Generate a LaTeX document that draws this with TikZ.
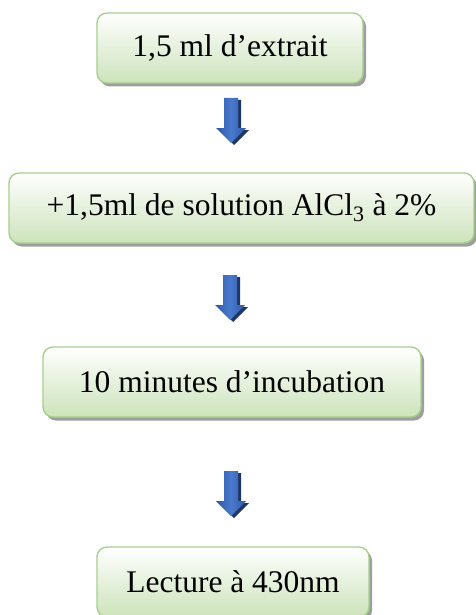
\documentclass[tikz,border=0pt]{standalone}
\usepackage{fontspec}
\setmainfont{Liberation Serif}
\usetikzlibrary{shadows}
\definecolor{boxborder}{RGB}{168,208,141}
\definecolor{boxbottom}{RGB}{204,227,186}
\definecolor{arrmid}{RGB}{74,122,205}
\definecolor{arrside}{RGB}{47,88,165}
\definecolor{arrshadow}{RGB}{30,55,105}
\tikzset{
  stepbox/.style={draw=boxborder, line width=1.4pt, rounded corners=10pt,
    top color=white, bottom color=boxbottom, minimum height=70pt,
    inner sep=0pt, font=\fontsize{31.5}{36}\selectfont,
    general shadow={fill=black!38, shadow xshift=3pt, shadow yshift=-3.5pt}},
  blockarrow/.pic={
    \fill[arrshadow, shift={(3,2)}] (-7,0) -- (7,0) -- (7,30) -- (15,30) -- (0,45) -- (-15,30) -- (-7,30) -- cycle;
    \shade[left color=arrside, right color=arrside, middle color=arrmid]
      (-7,0) -- (7,0) -- (7,30) -- (15,30) -- (0,45) -- (-15,30) -- (-7,30) -- cycle;
  }
}
\begin{document}
\begin{tikzpicture}[x=1pt,y=-1pt]
\useasboundingbox (0,0) rectangle (475,615);
\node[stepbox, minimum width=266pt] (b1) at (230,48) {1,5 ml d’extrait};
\node[stepbox, minimum width=465pt] (b2) at (241.5,208) {+1,5ml de solution AlCl\textsubscript{3} à 2\%};
\node[stepbox, minimum width=378pt] (b3) at (232,382) {10 minutes d’incubation};
\node[stepbox, minimum width=272pt] (b4) at (233,582) {Lecture à 430nm};
\coordinate (a1) at (231,98);
\coordinate (a2) at (230,275);
\coordinate (a3) at (231,471);
\pic at (a1) {blockarrow};
\pic at (a2) {blockarrow};
\pic at (a3) {blockarrow};
\end{tikzpicture}
\end{document}
